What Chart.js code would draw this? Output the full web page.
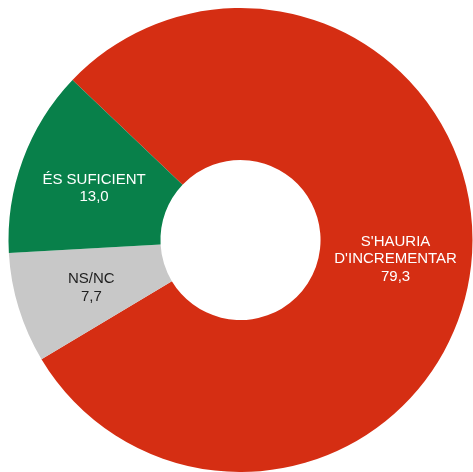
<!DOCTYPE html>
<html lang="ca">
<head>
<meta charset="utf-8">
<title>Doughnut</title>
<script src="https://cdn.jsdelivr.net/npm/chart.js"></script>
<style>
  html, body { margin: 0; padding: 0; background: #fff; }
  #wrap { width: 473px; height: 472px; }
</style>
</head>
<body>
<div id="wrap"><canvas id="myChart" width="473" height="472"></canvas></div>
<script>
// data
const categories = [["S'HAURIA", "D'INCREMENTAR"], ["NS/NC"], ["ÉS SUFICIENT"]];
const values = [79.3, 7.7, 13.0];
const sliceColors = ['#d52e13', '#c8c8c8', '#08804a'];
const labelColors = ['#ffffff', '#1e1e1e', '#ffffff'];

// draw the category + value text in the middle of each slice
const sliceLabels = {
  id: 'sliceLabels',
  afterDatasetsDraw(chart) {
    const ctx = chart.ctx;
    const meta = chart.getDatasetMeta(0);
    ctx.save();
    ctx.font = '15px "Liberation Sans", Arial, sans-serif';
    ctx.textAlign = 'center';
    ctx.textBaseline = 'middle';
    meta.data.forEach((arc, i) => {
      const p = arc.tooltipPosition();
      const lines = categories[i].concat([values[i].toFixed(1).replace('.', ',')]);
      const lh = 17.5;
      const y0 = p.y + 2 - (lines.length - 1) * lh / 2;
      ctx.fillStyle = labelColors[i];
      lines.forEach((t, j) => ctx.fillText(t, p.x, y0 + j * lh));
    });
    ctx.restore();
  }
};

new Chart(document.getElementById('myChart'), {
  type: 'doughnut',
  data: {
    labels: categories.map(c => c.join(' ')),
    datasets: [{
      data: values,
      backgroundColor: sliceColors,
      borderWidth: 0
    }]
  },
  options: {
    responsive: false,
    animation: false,
    devicePixelRatio: 1,
    rotation: -46.4,
    cutout: '34.5%',
    layout: { padding: { left: 8, top: 8, right: 0, bottom: 0 } },
    plugins: {
      legend: { display: false },
      tooltip: { enabled: false }
    }
  },
  plugins: [sliceLabels]
});
</script>
</body>
</html>
